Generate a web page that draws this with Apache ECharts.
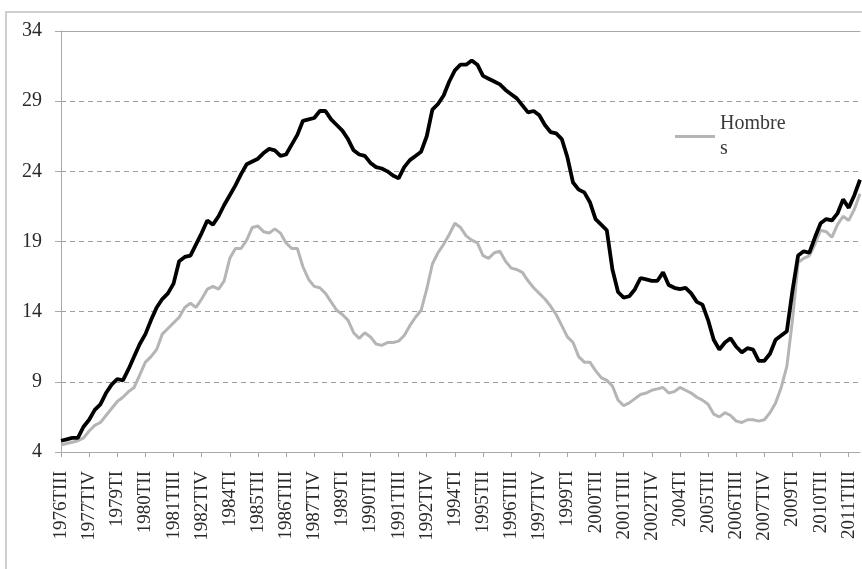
<!DOCTYPE html>
<html>
<head>
<meta charset="utf-8">
<script src="https://cdn.jsdelivr.net/npm/echarts@6/dist/echarts.min.js"></script>
<style>html,body{margin:0;padding:0;background:#fff}#c{width:862px;height:569px}</style>
</head>
<body>
<div id="c"></div>
<script>
// Quarter categories: 1976TIII .. 2012TI
const quarterSuffixes = ['TI','TII','TIII','TIV'];
const startYear = 1976, startQuarter = 2, nQuarters = 143;
const categories = [];
for (let n = 0; n < nQuarters; n++) {
  const k = startQuarter + n;
  categories.push((startYear + Math.floor(k / 4)) + quarterSuffixes[k % 4]);
}

const yTicks = [4, 9, 14, 19, 24, 29, 34];

// Black series (total)
const totalValues = [
  4.8,4.9,5.0,5.0,5.8,6.3,7.0,7.4,8.2,8.8,
  9.2,9.1,9.9,10.8,11.7,12.4,13.4,14.3,14.9,15.3,
  16.0,17.6,17.9,18.0,18.8,19.6,20.5,20.2,20.8,21.6,
  22.3,23.0,23.8,24.5,24.7,24.9,25.3,25.6,25.5,25.1,
  25.2,25.9,26.6,27.6,27.7,27.8,28.3,28.3,27.7,27.3,
  26.9,26.3,25.5,25.2,25.1,24.6,24.3,24.2,24.0,23.7,
  23.5,24.3,24.8,25.1,25.4,26.5,28.4,28.8,29.4,30.4,
  31.2,31.6,31.6,31.9,31.6,30.8,30.6,30.4,30.2,29.8,
  29.5,29.2,28.7,28.2,28.3,28.0,27.3,26.8,26.7,26.3,
  25.0,23.2,22.7,22.5,21.8,20.6,20.2,19.8,17.0,15.4,
  15.0,15.1,15.6,16.4,16.3,16.2,16.2,16.8,15.9,15.7,
  15.6,15.7,15.3,14.7,14.5,13.4,12.0,11.3,11.8,12.1,
  11.5,11.1,11.4,11.3,10.5,10.5,11.0,12.0,12.3,12.6,
  15.5,18.0,18.3,18.2,19.3,20.3,20.6,20.5,21.0,22.0,
  21.4,22.3,23.4
];

// Grey series (Hombres)
const hombresValues = [
  4.5,4.6,4.7,4.8,5.0,5.5,5.9,6.1,6.6,7.1,
  7.6,7.9,8.3,8.6,9.5,10.4,10.8,11.3,12.4,12.8,
  13.2,13.6,14.3,14.6,14.3,14.9,15.6,15.8,15.6,16.2,
  17.8,18.5,18.5,19.1,20.0,20.1,19.7,19.6,19.9,19.6,
  18.9,18.5,18.5,17.2,16.3,15.8,15.7,15.3,14.7,14.1,
  13.8,13.4,12.5,12.1,12.5,12.2,11.7,11.6,11.8,11.8,
  11.9,12.3,13.0,13.6,14.1,15.6,17.4,18.2,18.8,19.5,
  20.3,20.0,19.4,19.1,18.9,18.0,17.8,18.2,18.3,17.6,
  17.1,17.0,16.8,16.2,15.7,15.3,14.9,14.4,13.8,13.0,
  12.2,11.8,10.8,10.4,10.4,9.8,9.3,9.1,8.7,7.7,
  7.3,7.5,7.8,8.1,8.2,8.4,8.5,8.6,8.2,8.3,
  8.6,8.4,8.2,7.9,7.7,7.4,6.7,6.5,6.8,6.6,
  6.2,6.1,6.3,6.3,6.2,6.3,6.8,7.5,8.6,10.1,
  13.4,17.5,17.8,18.0,18.8,19.8,19.7,19.3,20.2,20.8,
  20.5,21.3,22.4
];

const serif = '"Liberation Serif", "DejaVu Serif", serif';
const axisGrey = '#a8a8a8';

const chart = echarts.init(document.getElementById('c'), null, {renderer: 'canvas'});
chart.setOption({
  backgroundColor: '#ffffff',
  animation: false,
  graphic: [{
    type: 'rect',
    shape: {x: 6, y: 12, width: 900, height: 600},
    style: {fill: 'none', stroke: '#cfcfcf', lineWidth: 2},
    silent: true
  }],
  grid: {left: 61, right: 2, top: 31, bottom: 117},
  legend: {
    data: [{name: 'Hombres', icon: 'rect'}],
    left: 675, top: 99, padding: 0,
    itemWidth: 40, itemHeight: 3,
    formatter: function () { return 'Hombre\ns'; },
    textStyle: {fontFamily: serif, fontSize: 20, color: '#3a3a3a', lineHeight: 25, padding: [25, 0, 0, 0]}
  },
  xAxis: [{
    type: 'category',
    data: categories,
    boundaryGap: false,
    axisLine: {lineStyle: {color: axisGrey, width: 1}},
    axisTick: {interval: 4, length: 5, lineStyle: {color: axisGrey}},
    axisLabel: {interval: 4, rotate: 90, margin: 19, fontFamily: serif, fontSize: 19, color: '#2a2a2a'},
    splitLine: {show: false}
  }, {
    type: 'category',
    data: categories,
    boundaryGap: false,
    position: 'top',
    axisLine: {lineStyle: {color: axisGrey, width: 1}},
    axisTick: {show: false},
    axisLabel: {show: false},
    splitLine: {show: false}
  }],
  yAxis: {
    type: 'value',
    min: 4, max: 34, interval: 5,
    axisLine: {show: true, lineStyle: {color: axisGrey, width: 1}},
    axisTick: {show: true, length: 6, lineStyle: {color: axisGrey}},
    axisLabel: {
      margin: 19, fontFamily: serif, fontSize: 20, color: '#2a2a2a',
      formatter: function (v) { return yTicks.indexOf(v) >= 0 ? String(v) : ''; }
    },
    splitLine: {show: true, lineStyle: {color: '#9e9e9e', type: [5, 4], width: 1}}
  },
  series: [{
    name: 'Hombres',
    type: 'line',
    data: hombresValues,
    showSymbol: false,
    lineStyle: {color: '#b5b5b5', width: 3},
    itemStyle: {color: '#b5b5b5'},
    z: 2
  }, {
    name: 'Total',
    type: 'line',
    data: totalValues,
    showSymbol: false,
    lineStyle: {color: '#000000', width: 3.8},
    itemStyle: {color: '#000000'},
    z: 3
  }]
});
</script>
</body>
</html>
